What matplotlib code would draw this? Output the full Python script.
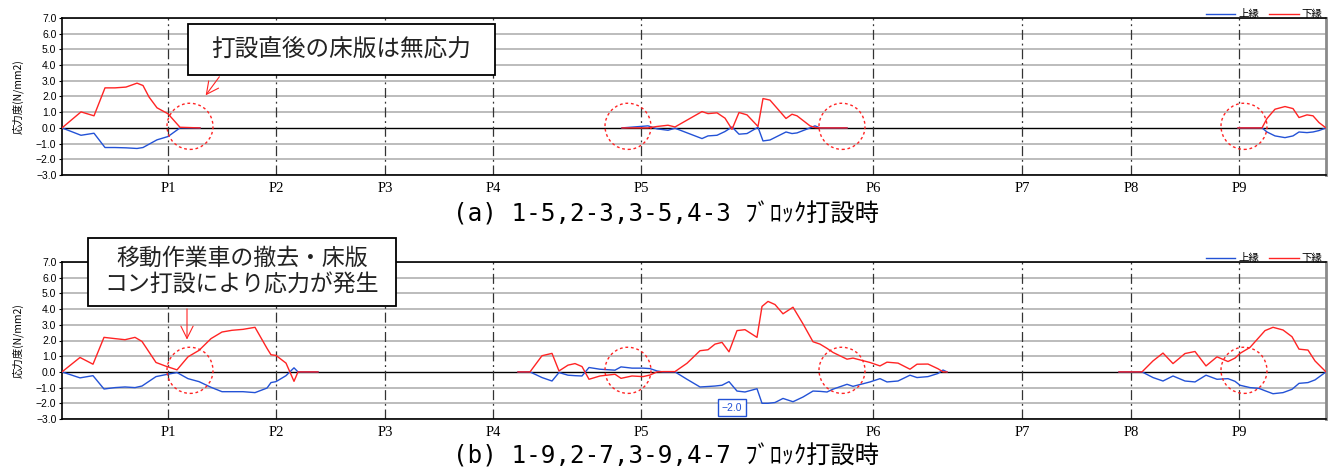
import matplotlib
matplotlib.use("Agg")
import matplotlib.pyplot as plt
from matplotlib.patches import Ellipse, Rectangle
from matplotlib.lines import Line2D

plt.rcParams['font.family'] = ['Noto Sans CJK JP', 'DejaVu Sans']

# ---- pier positions along the bridge (same scale as the section positions) ----
pier_names = ["P1", "P2", "P3", "P4", "P5", "P6", "P7", "P8", "P9"]
pier_pos = [106, 214, 323, 431, 579, 811, 960, 1069, 1177]
x_end = 1264

y_ticks = [-3, -2, -1, 0, 1, 2, 3, 4, 5, 6, 7]

# ---- (a) 1-5, 2-3, 3-5, 4-3 block casting ----
a1_x = [0, 19, 32, 43, 53, 64, 75, 81, 87, 95, 106, 118, 138]
a1_upper = [0, -0.47, -0.34, -1.25, -1.25, -1.27, -1.31, -1.25, -1.04, -0.76, -0.55, 0, 0]
a1_lower = [0, 1.02, 0.77, 2.55, 2.55, 2.60, 2.85, 2.70, 1.97, 1.28, 0.90, 0.04, 0]

a2_x = [560, 586, 595, 606, 613, 640, 646, 655, 663, 670, 677, 685, 696, 701, 708,
        724, 730, 735, 748, 753, 758, 785]
a2_upper = [0, 0.13, -0.06, -0.15, -0.02, -0.68, -0.51, -0.47, -0.23, 0.06, -0.40,
            -0.36, 0.04, -0.83, -0.77, -0.26, -0.36, -0.32, 0, 0.13, 0, 0]
a2_lower = [0, 0, 0.09, 0.17, 0.06, 1.04, 0.91, 0.96, 0.62, -0.09, 0.98, 0.83, 0.09,
            1.87, 1.77, 0.60, 0.87, 0.77, 0.13, 0.02, 0, 0]

a3_x = [1176, 1200, 1205, 1213, 1223, 1231, 1237, 1245, 1251, 1257, 1264]
a3_upper = [0, 0, -0.26, -0.51, -0.62, -0.51, -0.26, -0.30, -0.26, -0.17, 0]
a3_lower = [0, 0, 0.60, 1.19, 1.36, 1.23, 0.66, 0.83, 0.77, 0.34, 0]

# ---- (b) 1-9, 2-7, 3-9, 4-7 block casting ----
b1_x = [0, 18, 31, 42, 53, 63, 73, 80, 94, 104, 115, 126, 137, 149, 160, 170, 181,
        193, 205, 209, 214, 224, 232, 236, 256]
b1_upper = [0, -0.38, -0.24, -1.09, -1.00, -0.96, -1.00, -0.90, -0.30, -0.17, -0.04,
            -0.43, -0.62, -0.98, -1.26, -1.26, -1.26, -1.32, -1.03, -0.68, -0.62,
            -0.24, 0.26, 0, 0]
b1_lower = [0, 0.92, 0.49, 2.20, 2.12, 2.05, 2.20, 1.94, 0.60, 0.36, 0.13, 0.96, 1.37,
            2.12, 2.54, 2.65, 2.71, 2.84, 1.50, 1.09, 1.05, 0.56, -0.60, 0, 0]

b2_x = [456, 468, 480, 490, 497, 506, 513, 520, 527, 538, 553, 559, 570, 581, 588,
        595, 601, 613, 625, 638, 646, 653, 660, 667, 675, 683, 695, 700, 706, 713,
        721, 731, 741, 751, 758, 765, 771, 785, 791, 808, 818, 825, 836, 848, 855,
        866, 876, 881, 885]
b2_upper = [0, 0, -0.36, -0.58, -0.04, -0.21, -0.24, -0.26, 0.28, 0.17, 0.11, 0.32,
            0.24, 0.24, 0.21, 0.06, 0, 0, -0.47, -0.96, -0.93, -0.90, -0.85, -0.62,
            -1.22, -1.28, -1.07, -2.0, -2.0, -1.95, -1.69, -1.90, -1.60, -1.22, -1.24,
            -1.28, -1.10, -0.79, -0.92, -0.64, -0.43, -0.64, -0.58, -0.21, -0.36,
            -0.30, -0.10, 0.12, 0]
b2_lower = [0, 0, 1.03, 1.18, 0.06, 0.43, 0.53, 0.34, -0.47, -0.26, -0.15, -0.41,
            -0.26, -0.30, -0.20, 0, 0.02, 0.02, 0.55, 1.35, 1.41, 1.77, 1.88, 1.28,
            2.63, 2.69, 2.20, 4.17, 4.49, 4.29, 3.70, 4.12, 3.06, 1.92, 1.77, 1.50,
            1.24, 0.81, 0.88, 0.60, 0.38, 0.62, 0.56, 0.17, 0.49, 0.50, 0.20, 0, 0]

b3_x = [1057, 1080, 1091, 1101, 1111, 1123, 1133, 1144, 1155, 1166, 1173, 1178, 1188,
        1197, 1203, 1211, 1221, 1230, 1237, 1246, 1253, 1264]
b3_upper = [0, 0, -0.36, -0.58, -0.26, -0.58, -0.64, -0.21, -0.47, -0.43, -0.60,
            -0.85, -1.00, -1.05, -1.20, -1.39, -1.32, -1.11, -0.73, -0.68, -0.51, 0]
b3_lower = [0, 0, 0.70, 1.20, 0.53, 1.17, 1.30, 0.38, 0.96, 0.66, 0.88, 1.18, 1.56,
            2.20, 2.63, 2.84, 2.67, 2.24, 1.45, 1.39, 0.70, 0]

# dashed circles marking joints around the piers
circle_x = [128, 566, 780, 1182]

BLUE = "#2352d6"
RED = "#ff2424"

fig = plt.figure(figsize=(13.32, 4.71), dpi=100)
ax_a = fig.add_axes([62 / 1332, 1 - 175 / 471, 1264 / 1332, 157 / 471])
ax_b = fig.add_axes([62 / 1332, 1 - 419 / 471, 1264 / 1332, 157 / 471])


def style_axis(ax, segments):
    ax.set_xlim(0, x_end)
    ax.set_ylim(-3, 7)
    ax.set_yticks(y_ticks)
    ax.set_yticklabels([f"{v:.1f}".replace("-", "\u2212") for v in y_ticks],
                       family=["Liberation Sans", "DejaVu Sans"], fontsize=7.5)
    ax.tick_params(axis="y", length=2, pad=2)
    ax.set_xticks(pier_pos)
    ax.set_xticklabels(pier_names, family=["Liberation Serif", "DejaVu Serif"], fontsize=10.5)
    ax.tick_params(axis="x", length=0, pad=5)
    for v in y_ticks:
        if v != 0:
            ax.axhline(v, color="#bcbcbc", lw=1.4, zorder=1)
    ax.axhline(0, color="black", lw=1.0, zorder=2)
    for p in pier_pos:
        ax.axvline(p, color="#333333", lw=0.9, ls=(0, (8, 3, 1.5, 3)), zorder=2)
    for sp in ["left", "bottom", "top"]:
        ax.spines[sp].set_linewidth(1.2)
    ax.spines["right"].set_color("#8a8a8a")
    ax.spines["right"].set_linewidth(2.0)
    ax.set_ylabel("応力度(N/mm2)", fontsize=7.5, labelpad=9)
    for xs, up, lo in segments:
        ax.plot(xs, up, color=BLUE, lw=1.0, zorder=4)
        ax.plot(xs, lo, color=RED, lw=1.0, zorder=5)
    for cx in circle_x:
        ax.add_patch(Ellipse((cx, 0.1), 46, 2.94, fill=False, edgecolor=RED,
                             lw=1.0, ls=(0, (2, 2)), zorder=6))
    handles = [Line2D([], [], color=BLUE, lw=1.0), Line2D([], [], color=RED, lw=1.0)]
    ax.legend(handles, ["上縁", "下縁"], loc="lower right", bbox_to_anchor=(0.998, 0.985),
              ncol=2, frameon=False, fontsize=7.5, handlelength=2.8, handletextpad=0.3,
              columnspacing=1.0, borderaxespad=0, borderpad=0.1)


style_axis(ax_a, [(a1_x, a1_upper, a1_lower), (a2_x, a2_upper, a2_lower),
                  (a3_x, a3_upper, a3_lower)])
style_axis(ax_b, [(b1_x, b1_upper, b1_lower), (b2_x, b2_upper, b2_lower),
                  (b3_x, b3_upper, b3_lower)])

# callout (a)
ax_a.add_patch(Rectangle((126, 3.40), 307, 3.19, facecolor="white", edgecolor="black",
                         lw=1.3, zorder=8, clip_on=False))
ax_a.text(279.5, 5.0, "打設直後の床版は無応力", ha="center", va="center",
          fontsize=17, color="#222222", zorder=9)
ax_a.annotate("", xy=(142, 1.93), xytext=(159, 3.40),
              arrowprops=dict(arrowstyle="->", color=RED, lw=0.8, mutation_scale=22),
              zorder=7)

# callout (b)
ax_b.add_patch(Rectangle((26, 4.19), 308, 4.35, facecolor="white", edgecolor="black",
                         lw=1.3, zorder=8, clip_on=False))
ax_b.text(180, 6.37, "移動作業車の撤去・床版\nコン打設により応力が発生", ha="center",
          va="center", fontsize=16.5, color="#222222", linespacing=1.2, zorder=9,
          clip_on=False)
ax_b.annotate("", xy=(125, 1.88), xytext=(125, 4.19),
              arrowprops=dict(arrowstyle="->", color=RED, lw=0.8, mutation_scale=22),
              zorder=7)

# minimum value label of the upper fibre in (b)
i_min = min(range(len(b2_upper)), key=lambda i: b2_upper[i])
ax_b.annotate(f"{b2_upper[i_min]:.1f}".replace("-", "\u2212"),
              xy=(b2_x[i_min], b2_upper[i_min]), xytext=(670, -2.29),
              ha="center", va="center", fontsize=7.5, color=BLUE,
              family=["Liberation Sans", "DejaVu Sans"],
              bbox=dict(boxstyle="square,pad=0.35", facecolor="white", edgecolor=BLUE, lw=1.0),
              zorder=9)

caption_family = ["DejaVu Sans Mono", "Noto Sans CJK JP"]
fig.text(666 / 1332, 1 - 214 / 471, "(a) 1-5,2-3,3-5,4-3 ﾌﾞﾛｯｸ打設時", ha="center",
         va="center", fontsize=17.5, family=caption_family)
fig.text(666 / 1332, 1 - 456 / 471, "(b) 1-9,2-7,3-9,4-7 ﾌﾞﾛｯｸ打設時", ha="center",
         va="center", fontsize=17.5, family=caption_family)

fig.savefig("out.png", dpi=100)
